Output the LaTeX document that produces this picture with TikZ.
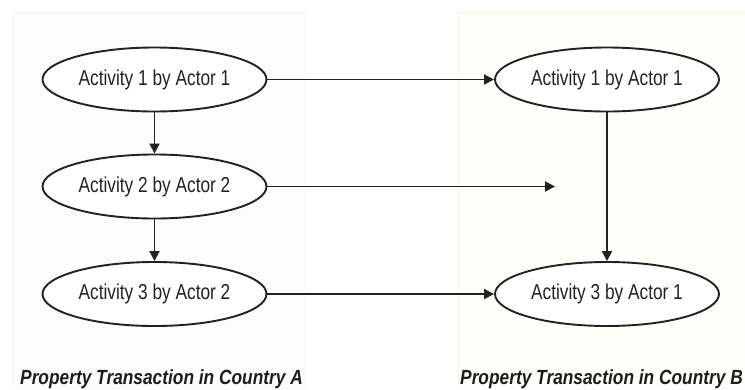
\documentclass[tikz,border=0pt]{standalone}
\usepackage{fontspec}
\setmainfont{Liberation Sans}[FakeStretch=0.8]
\newfontfamily\capfont{Liberation Sans}[FakeStretch=0.845]
\usetikzlibrary{shapes.geometric,arrows.meta}
\definecolor{ink}{HTML}{222222}
\definecolor{panelA}{HTML}{FCFCFC}
\definecolor{panelB}{HTML}{FEFEFA}
\definecolor{panelBline}{HTML}{F6F6E6}
\tikzset{
  activity/.style={ellipse, draw=ink, line width=1.9pt, fill=white,
    minimum width=224pt, minimum height=64pt, inner sep=0pt,
    text=ink, font=\fontsize{21.6}{24}\selectfont},
  flow/.style={draw=ink, line width=1.9pt,
    -{Triangle[length=10pt,width=10pt]}},
  caption/.style={anchor=base west, inner sep=0pt, text=ink!85!black,
    font=\capfont\bfseries\itshape\fontsize{20.5}{24}\selectfont},
}
\begin{document}
\begin{tikzpicture}[x=1pt,y=-1pt]
  \useasboundingbox (0,0) rectangle (745,389);
  \fill[white] (0,0) rectangle (745,389);
  % country panels
  \fill[panelA] (12,12) rectangle (305,389);
  \draw[panelA!60!gray!15, line width=0.6pt] (12,389) -- (12,12) -- (305,12) -- (305,389);
  \fill[panelB] (458,12) rectangle (745,389);
  \draw[panelBline, line width=0.8pt] (458,389) -- (458,12) -- (745,12);

  % country A activities
  \node[activity] (a1) at (154.5,79.5) {Activity 1 by Actor 1};
  \node[activity] (a2) at (154.5,186.5) {Activity 2 by Actor 2};
  \node[activity] (a3) at (154.5,294) {Activity 3 by Actor 2};

  % country B activities
  \node[activity] (b1) at (607,79.5) {Activity 1 by Actor 1};
  \node[activity] (b3) at (607,294) {Activity 3 by Actor 1};
  \coordinate (b2) at (555,186.5);

  % flows
  \draw[flow] (a1) -- (a2);
  \draw[flow] (a2) -- (a3);
  \draw[flow] (b1) -- (b3);
  \draw[flow] (a1) -- (b1);
  \draw[flow] (a2.east) -- (b2);
  \draw[flow] (a3) -- (b3);

  % captions
  \node[caption] (capA) at (20,384) {Property Transaction in Country A};
  \node[caption] (capB) at (460,384) {Property Transaction in Country B};
\end{tikzpicture}
\end{document}
